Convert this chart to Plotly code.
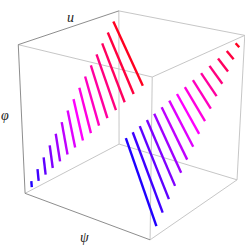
import colorsys
import numpy as np
import plotly.graph_objects as go

# Height of each stripe on the phi axis
phi_levels = [0.0625, 0.125, 0.1875, 0.25, 0.3125, 0.375, 0.4375, 0.5,
              0.5625, 0.625, 0.6875, 0.75, 0.8125, 0.875, 0.9375]
# Cube edges as (psi, u, phi) pairs
dark_edges = [((0, 0, 1), (0, 1, 1)), ((0, 0, 1), (0, 0, 0)), ((0, 0, 0), (1, 0, 0))]
light_edges = [((0, 0, 1), (1, 0, 1)), ((1, 0, 1), (1, 1, 1)), ((0, 1, 1), (1, 1, 1)),
               ((0, 1, 1), (0, 1, 0)), ((0, 0, 0), (0, 1, 0)), ((0, 1, 0), (1, 1, 0)),
               ((1, 1, 0), (1, 0, 0)), ((1, 0, 1), (1, 0, 0)), ((1, 1, 1), (1, 1, 0))]
axis_labels = ["u", "φ", "ψ"]

# Perspective camera of the reference view (maps psi, u, phi to the 2D axes)
CAMERA = np.array([[110.03931, 109.80906, -8.0025, 25.09054],
                   [22.59284, -30.10708, -151.59455, 193.34082],
                   [-0.09962, 0.13292, -0.06523, 1.0]])


def project(points):
    h = CAMERA @ np.column_stack([np.array(points, float), np.ones(len(points))]).T
    return (h[0] / h[2]).tolist(), (h[1] / h[2]).tolist()


def hue(t):
    r, g, b = colorsys.hsv_to_rgb(2/3 + t/3, 1, 1)
    return f"rgb({int(r*255)},{int(g*255)},{int(b*255)})"


fig = go.Figure()
for edges, col in ((light_edges, "#c0c0c0"), (dark_edges, "#808080")):
    for a, b in edges:
        xs, ys = project([a, b])
        fig.add_trace(go.Scatter(x=xs, y=ys, mode="lines", line=dict(color=col, width=0.9),
                                 showlegend=False, hoverinfo="skip"))
for t in phi_levels:
    for seg in ([(0, t, t), (t, 0, t)], [(t, 1, t), (1, t, t)]):
        xs, ys = project(seg)
        fig.add_trace(go.Scatter(x=xs, y=ys, mode="lines", line=dict(color=hue(t), width=2.4),
                                 showlegend=False, hoverinfo="skip"))

label_pos = [(70, 17), (5, 115), (84, 237)]
fig.update_layout(
    width=245, height=245, margin=dict(l=0, r=0, t=0, b=0),
    paper_bgcolor="white", plot_bgcolor="white",
    xaxis=dict(visible=False, range=[0, 245], fixedrange=True),
    yaxis=dict(visible=False, range=[245, 0], fixedrange=True),
    annotations=[dict(text=f"<i>{s}</i>", x=p[0], y=p[1], xref="x", yref="y",
                      xanchor="center", yanchor="middle", showarrow=False)
                 for s, p in zip(axis_labels, label_pos)],
    font=dict(family="Liberation Serif", size=14, color="#222"),
)
fig.write_html("out.html", config=dict(displayModeBar=False),
               post_script="document.body.style.margin='0';")
